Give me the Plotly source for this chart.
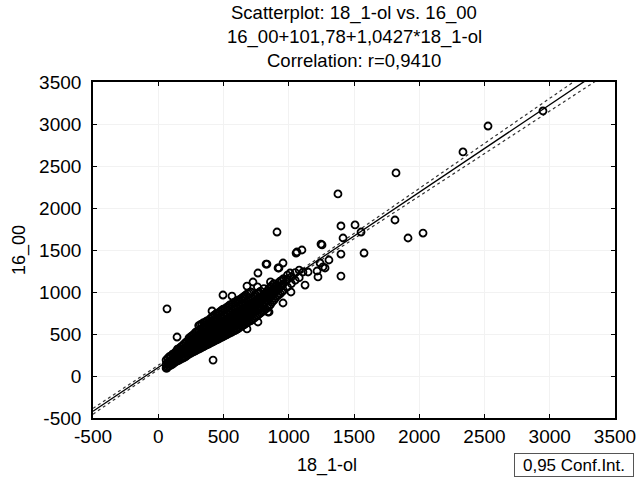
import numpy as np
import plotly.graph_objects as go

# ---- data ----
outlier_x = [67, 144, 420, 412, 496, 565, 910, 1063, 1101, 833, 956, 925, 764, 1822, 1377, 1400,
             1508, 1814, 1914, 2029, 1554, 1416, 1577, 1400, 1247, 1308, 1240, 1262, 1278, 1400,
             1010, 1109, 1148, 1217, 2527, 2335, 2948, 67, 680, 764, 840, 956, 1125, 1224, 680,
             726, 826, 918, 1056, 1255, 849, 1017]
outlier_y = [800, 464, 190, 774, 964, 952, 1714, 1476, 1500, 1333, 1345, 1286, 1226, 2417, 2167, 1786,
             1798, 1857, 1643, 1702, 1714, 1643, 1464, 1452, 1571, 1381, 1345, 1298, 1286, 1190,
             1226, 1238, 1238, 1250, 2976, 2667, 3155, 95, 560, 643, 762, 869, 1083, 1179, 1071,
             1119, 1333, 1286, 1464, 1560, 762, 1000]

# dense cluster, read column by column (x value, then the y values seen in that column)
core_cols_a = [60, 85, 110, 135, 160, 185, 210, 235, 260, 285, 310, 335, 360, 385, 410, 435, 460,
               485, 510, 535, 560, 585, 610, 635, 660, 685, 710, 735, 760, 785, 810, 835, 860, 885,
               910, 935, 960, 990, 1020, 1050, 1080]
core_ys_a = [[95, 140, 190],
             [120, 175, 230, 150],
             [140, 200, 260, 180],
             [170, 220, 290, 250],
             [190, 240, 300, 330, 260],
             [210, 270, 320, 360, 290],
             [230, 290, 340, 400, 310, 270],
             [260, 310, 360, 420, 450, 330],
             [280, 340, 390, 440, 480, 300, 360],
             [300, 360, 410, 460, 520, 390, 330],
             [320, 380, 430, 480, 540, 600, 410, 350],
             [340, 400, 450, 500, 560, 620, 470, 370],
             [360, 420, 470, 520, 580, 640, 490, 390, 440],
             [380, 440, 500, 550, 610, 660, 470, 410, 530],
             [400, 460, 520, 580, 640, 700, 500, 430, 560],
             [420, 480, 540, 600, 660, 730, 510, 570, 450],
             [440, 500, 560, 620, 680, 750, 590, 530, 470],
             [460, 520, 580, 640, 700, 780, 610, 550, 490],
             [480, 540, 600, 660, 720, 800, 630, 570, 510],
             [500, 560, 620, 680, 740, 830, 650, 590],
             [520, 580, 640, 700, 760, 850, 670, 610],
             [540, 600, 660, 720, 790, 880, 700, 630],
             [560, 620, 690, 750, 810, 900, 720, 660],
             [590, 650, 710, 770, 840, 920, 750],
             [610, 680, 740, 800, 860, 950, 770],
             [640, 700, 760, 820, 890, 980],
             [660, 730, 790, 850, 910, 1000],
             [690, 760, 820, 880, 950],
             [720, 790, 850, 910, 980, 1060],
             [750, 820, 880, 940, 1010],
             [780, 860, 920, 970, 1040],
             [810, 900, 960, 1010],
             [850, 940, 1000, 1060, 1120],
             [900, 980, 1040, 1100],
             [950, 1020, 1080],
             [980, 1060, 1130],
             [1020, 1100, 1160],
             [1060, 1150, 1200],
             [1100, 1180],
             [1140, 1230],
             [1170, 1260]]

core_cols_b = [72, 97, 122, 147, 172, 197, 222, 247, 272, 297, 322, 347, 372, 397, 422, 447, 472,
               497, 522, 547, 572, 597, 622, 647, 672, 697, 722, 747, 772, 797, 822, 847, 872, 897,
               922, 947]
core_ys_b = [[110, 160, 210],
             [130, 185, 240, 165],
             [155, 210, 270, 195],
             [180, 235, 285, 320],
             [200, 255, 310, 345, 275],
             [220, 280, 330, 380, 300],
             [245, 300, 350, 410, 325, 280],
             [270, 325, 375, 430, 465, 345],
             [290, 350, 400, 455, 495, 320, 375],
             [310, 370, 420, 470, 530, 400, 345],
             [330, 390, 440, 495, 555, 610, 420, 365],
             [350, 410, 460, 515, 575, 635, 480, 385],
             [370, 430, 485, 535, 595, 655, 505, 400, 455],
             [390, 450, 510, 565, 625, 680, 480, 425, 545],
             [410, 470, 530, 595, 655, 715, 510, 440, 575],
             [430, 490, 550, 615, 675, 745, 525, 585, 460],
             [450, 510, 570, 635, 695, 765, 600, 540, 480],
             [470, 530, 590, 655, 715, 795, 625, 560, 500],
             [490, 550, 610, 675, 735, 815, 645, 580, 520],
             [510, 570, 630, 695, 755, 845, 660, 600],
             [530, 590, 650, 715, 775, 865, 685, 620],
             [550, 610, 675, 735, 805, 890, 710, 645],
             [575, 635, 700, 760, 825, 910, 735, 670],
             [600, 665, 725, 785, 855, 935, 760],
             [625, 690, 750, 815, 875, 965, 780],
             [650, 715, 775, 835, 900, 990],
             [675, 745, 805, 865, 925],
             [705, 775, 835, 895, 965],
             [735, 805, 865, 925, 995],
             [765, 840, 900, 955],
             [795, 880, 940, 990],
             [830, 920, 980, 1040],
             [880, 960, 1020, 1080],
             [925, 1000, 1060],
             [965, 1040, 1110],
             [1000, 1080, 1140]]

intercept = 101.78
slope = 1.0427
x_ticks = [-500, 0, 500, 1000, 1500, 2000, 2500, 3000, 3500]
y_ticks = [-500, 0, 500, 1000, 1500, 2000, 2500, 3000, 3500]
title_lines = ["Scatterplot: 18_1-ol vs. 16_00",
               "16_00+101,78+1,0427*18_1-ol",
               "Correlation: r=0,9410"]
x_label = "18_1-ol"
y_label = "16_00"
legend_text = "0,95 Conf.Int."

# ---- flatten the cluster ----
core_x, core_y = [], []
for cols, ys in ((core_cols_a, core_ys_a), (core_cols_b, core_ys_b)):
    for cx, cy in zip(cols, ys):
        core_x += [cx] * len(cy)
        core_y += cy

all_x = core_x + outlier_x
all_y = core_y + outlier_y

# ---- regression line and 95% confidence band ----
xa = np.array(all_x, dtype=float)
ya = np.array(all_y, dtype=float)
n = len(xa)
resid = ya - (intercept + slope * xa)
s = np.sqrt(np.sum(resid ** 2) / (n - 2))
xbar = xa.mean()
sxx = np.sum((xa - xbar) ** 2)
xl = np.linspace(-500, 3500, 200)
yl = intercept + slope * xl
half = 1.96 * s * np.sqrt(1.0 / n + (xl - xbar) ** 2 / sxx)

FONT = "Liberation Sans, Arial, sans-serif"

fig = go.Figure()
fig.add_trace(go.Scatter(x=xl, y=yl + half, mode="lines",
                         line=dict(color="#333333", width=1.2, dash="dot"), hoverinfo="skip"))
fig.add_trace(go.Scatter(x=xl, y=yl - half, mode="lines",
                         line=dict(color="#333333", width=1.2, dash="dot"), hoverinfo="skip"))
fig.add_trace(go.Scatter(x=all_x, y=all_y, mode="markers",
                         marker=dict(symbol="circle-open", size=7, color="black",
                                     line=dict(width=1.8, color="black"))))
fig.add_trace(go.Scatter(x=xl, y=yl, mode="lines", line=dict(color="black", width=1.3),
                         hoverinfo="skip"))

axis_common = dict(showline=True, linecolor="black", linewidth=1.6, mirror="ticks",
                   ticks="inside", ticklen=4, tickcolor="black", showgrid=True,
                   gridcolor="#f2f2f2", gridwidth=1, zeroline=False, automargin=False,
                   tickfont=dict(family=FONT, size=19, color="black"))

fig.update_layout(
    width=640, height=478,
    margin=dict(l=93, r=25, t=82, b=60),
    paper_bgcolor="white", plot_bgcolor="white",
    showlegend=False,
    xaxis=dict(range=[-500, 3500], tickvals=x_ticks, ticktext=[str(v) for v in x_ticks],
               ticklabelstandoff=0, **axis_common),
    yaxis=dict(range=[-500, 3500], tickvals=y_ticks, ticktext=[str(v) for v in y_ticks],
               ticklabelstandoff=6, **axis_common),
)

for i, t in enumerate(title_lines):
    fig.add_annotation(text=t, xref="paper", yref="paper", x=0.5, y=1,
                       yshift=69 - 23.5 * i, yanchor="middle", xanchor="center", showarrow=False,
                       font=dict(family=FONT, size=18.5, color="black"))

# axis titles
fig.add_annotation(text=x_label, xref="paper", yref="paper", x=0.448, y=0, yshift=-47,
                   xanchor="center", yanchor="middle", showarrow=False,
                   font=dict(family=FONT, size=18, color="black"))
fig.add_annotation(text=y_label, xref="paper", yref="paper", x=0, y=0.5, xshift=-74,
                   xanchor="center", yanchor="middle", textangle=-90, showarrow=False,
                   font=dict(family=FONT, size=18, color="black"))

fig.add_annotation(text=legend_text, xref="paper", yref="paper", x=1, y=0,
                   xanchor="right", yanchor="top", xshift=19, yshift=-35, showarrow=False,
                   width=116, height=20, align="center", valign="middle",
                   bordercolor="#555555", borderwidth=1, borderpad=1, bgcolor="white",
                   font=dict(family=FONT, size=17, color="black"))

fig.write_html("out.html", config={"displayModeBar": False},
               post_script="document.body.style.margin='0';document.body.style.padding='0';")
